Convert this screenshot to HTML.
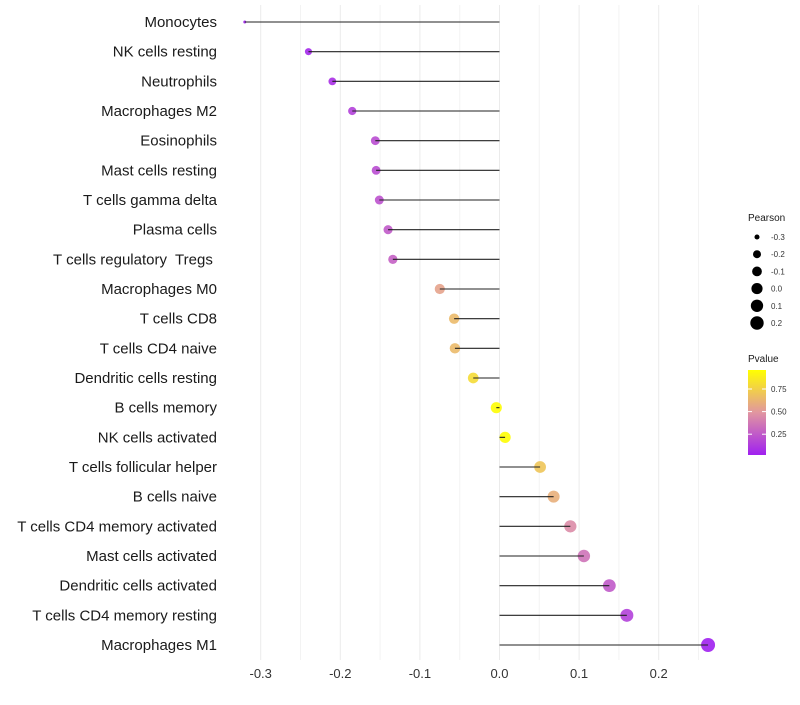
<!DOCTYPE html>
<html><head><meta charset="utf-8"><style>
body{margin:0;background:#fff;font-family:"Liberation Sans",Arial,sans-serif}
text{white-space:pre}
</style></head><body>
<svg id="chart" width="800" height="700" xmlns="http://www.w3.org/2000/svg"></svg>
<script>
const categories=["Monocytes","NK cells resting","Neutrophils","Macrophages M2","Eosinophils","Mast cells resting","T cells gamma delta","Plasma cells","T cells regulatory  Tregs ","Macrophages M0","T cells CD8","T cells CD4 naive","Dendritic cells resting","B cells memory","NK cells activated","T cells follicular helper","B cells naive","T cells CD4 memory activated","Mast cells activated","Dendritic cells activated","T cells CD4 memory resting","Macrophages M1"];
const pearson=[-0.32,-0.24,-0.21,-0.185,-0.156,-0.155,-0.151,-0.14,-0.134,-0.075,-0.057,-0.056,-0.033,-0.004,0.007,0.051,0.068,0.089,0.106,0.138,0.16,0.262];
const pvalue=[0.02,0.05,0.08,0.15,0.2,0.2,0.22,0.25,0.28,0.55,0.65,0.65,0.8,0.95,0.95,0.7,0.6,0.45,0.35,0.25,0.15,0.02];
const xTicks=[-0.3,-0.2,-0.1,0.0,0.1,0.2];
const xTickLabels=["-0.3","-0.2","-0.1","0.0","0.1","0.2"];
const sizeLegendValues=[-0.3,-0.2,-0.1,0.0,0.1,0.2];
const sizeLegendLabels=["-0.3","-0.2","-0.1","0.0","0.1","0.2"];
const pLegendTicks=[0.25,0.5,0.75];
const pLegendLabels=["0.25","0.50","0.75"];

const svg=document.getElementById('chart');
const NS="http://www.w3.org/2000/svg";
function mk(t,a,p){const e=document.createElementNS(NS,t);for(const k in a)e.setAttribute(k,a[k]);(p||svg).appendChild(e);return e;}
const x=v=>499.5+v*796;
const n=categories.length;
const y=i=>22+i*(645-22)/(n-1);
const pmin=Math.min(...pearson),pmax=Math.max(...pearson);
const r=v=>{const t=Math.max(0,(v-pmin)/(pmax-pmin));return 1.5+5.5*Math.sqrt(t);};
function col(p){const t=Math.max(0,Math.min(1,(p-0.02)/(0.96-0.02)));
 const a=[160,32,240],b=[255,255,0],m=[225,150,160];
 let c;if(t<0.5){const s=t*2;c=a.map((v,k)=>Math.round(v+(m[k]-v)*s));}else{const s=(t-0.5)*2;c=m.map((v,k)=>Math.round(v+(b[k]-v)*s));}
 return `rgb(${c[0]},${c[1]},${c[2]})`;}
const py=p=>455-(p-0.02)/(0.96-0.02)*85;

for(let k=0;k<=11;k++){const v=-0.3+k*0.05;const major=k%2===0;
 const g=mk('line',{x1:x(v),x2:x(v),y1:5,y2:660,stroke:major?'#ebebeb':'#f3f3f3','stroke-width':1});
 
 }
xTicks.forEach((v,i)=>{const t=mk('text',{x:x(v),y:678,'text-anchor':'middle','font-size':13,fill:'#333'});t.textContent=xTickLabels[i];

});
categories.forEach((c,i)=>{
 const t=mk('text',{x:217,y:y(i)+5,'text-anchor':'end','font-size':15,fill:'#1a1a1a'});t.textContent=c;
 
 
 const d=mk('circle',{cx:x(pearson[i]),cy:y(i),r:r(pearson[i]),fill:col(pvalue[i]),'fill-opacity':0.9});
 
 
 const l=mk('line',{x1:x(0),x2:x(pearson[i]),y1:y(i),y2:y(i),stroke:'#222','stroke-width':1.1});
 
 
});
const lt=mk('text',{x:748,y:221,'font-size':10,fill:'#1a1a1a'});lt.textContent='Pearson';


sizeLegendValues.forEach((v,i)=>{const cy=237+i*17.2;
 const c=mk('circle',{cx:757,cy:cy,r:r(v),fill:'#000'});
 
 
 const t=mk('text',{x:771,y:cy+3,'font-size':8,fill:'#333'});t.textContent=sizeLegendLabels[i];
 
 });
const ct=mk('text',{x:748,y:362,'font-size':10,fill:'#1a1a1a'});ct.textContent='Pvalue';


const defs=mk('defs',{});const gr=mk('linearGradient',{id:'pg',x1:0,y1:1,x2:0,y2:0},defs);
for(let k=0;k<=10;k++)mk('stop',{offset:k/10,'stop-color':col(0.02+k/10*0.94)},gr);
const bar=mk('rect',{x:748,y:370,width:18,height:85,fill:'url(#pg)'});


pLegendTicks.forEach((p,i)=>{mk('line',{x1:748,x2:752,y1:py(p),y2:py(p),stroke:'#fff'});mk('line',{x1:762,x2:766,y1:py(p),y2:py(p),stroke:'#fff'});
 const t=mk('text',{x:771,y:py(p)+3,'font-size':8,fill:'#333'});t.textContent=pLegendLabels[i];
 
 });
</script>
</body></html>
